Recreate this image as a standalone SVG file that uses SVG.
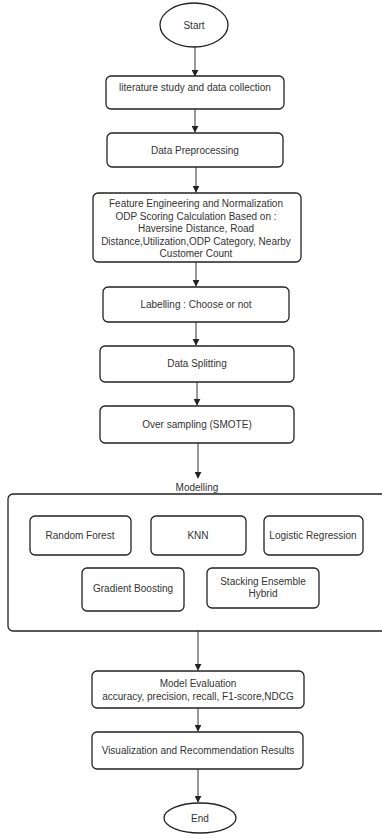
<svg xmlns="http://www.w3.org/2000/svg" width="382" height="838" viewBox="0 0 382 838">
<style>
.b{fill:#fff;stroke:#222;stroke-width:1.3}
.t{font-family:"Liberation Sans",Arial,sans-serif;font-size:10px;fill:#333;text-anchor:middle}
.c{stroke:#333;stroke-width:1;fill:none;marker-end:url(#a)}
</style>
<defs>
<marker id="a" viewBox="0 0 10 10" refX="9" refY="5" markerWidth="7" markerHeight="7" orient="auto" markerUnits="userSpaceOnUse">
<path d="M0,0 L10,5 L0,10 z" fill="#222"/>
</marker>
</defs>
<rect width="382" height="838" fill="#fff"/>
<g id="connectors">
<line class="c" x1="195" y1="47" x2="195" y2="76"/>
<line class="c" x1="195" y1="109" x2="195" y2="132"/>
<line class="c" x1="196" y1="167" x2="196" y2="192"/>
<line class="c" x1="196" y1="262" x2="196" y2="286"/>
<line class="c" x1="196" y1="322" x2="196" y2="345"/>
<line class="c" x1="197" y1="382" x2="197" y2="405"/>
<line class="c" x1="198" y1="443" x2="198" y2="478"/>
<line class="c" x1="198" y1="631" x2="198" y2="670"/>
<line class="c" x1="198" y1="708" x2="198" y2="731"/>
<line class="c" x1="198" y1="769" x2="198" y2="802"/>
</g>
<g id="start">
<ellipse class="b" cx="194" cy="25" rx="34" ry="22"/>
<text class="t" x="194" y="29">Start</text>
</g>
<g id="lit">
<rect class="b" x="106" y="76" width="178" height="33" rx="5"/>
<text class="t" x="195" y="91">literature study and data collection</text>
</g>
<g id="prep">
<rect class="b" x="107" y="133" width="176" height="34" rx="5"/>
<text class="t" x="195" y="154">Data Preprocessing</text>
</g>
<g id="feat">
<rect class="b" x="93" y="193" width="208" height="69" rx="5"/>
<text class="t" x="196" y="207">Feature Engineering and Normalization</text>
<text class="t" x="196" y="219.5">ODP Scoring Calculation Based on :</text>
<text class="t" x="196" y="232">Haversine Distance, Road</text>
<text class="t" x="196" y="244.5">Distance,Utilization,ODP Category, Nearby</text>
<text class="t" x="196" y="257">Customer Count</text>
</g>
<g id="label">
<rect class="b" x="103" y="287" width="186" height="35" rx="5"/>
<text class="t" x="196" y="308">Labelling : Choose or not</text>
</g>
<g id="split">
<rect class="b" x="100" y="346" width="194" height="36" rx="5"/>
<text class="t" x="197" y="367">Data Splitting</text>
</g>
<g id="smote">
<rect class="b" x="100" y="406" width="194" height="37" rx="5"/>
<text class="t" x="197" y="428">Over sampling (SMOTE)</text>
</g>
<g id="modelling">
<text class="t" x="197" y="491">Modelling</text>
<rect class="b" x="8" y="494" width="390" height="137" rx="5"/>
</g>
<g id="rf">
<rect class="b" x="30" y="516" width="101" height="39" rx="5"/>
<text class="t" x="80" y="539">Random Forest</text>
</g>
<g id="knn">
<rect class="b" x="151" y="516" width="95" height="39" rx="5"/>
<text class="t" x="198" y="539">KNN</text>
</g>
<g id="lr">
<rect class="b" x="264" y="516" width="99" height="39" rx="5"/>
<text class="t" x="313" y="539">Logistic Regression</text>
</g>
<g id="gb">
<rect class="b" x="82" y="568" width="102" height="43" rx="5"/>
<text class="t" x="133" y="592">Gradient Boosting</text>
</g>
<g id="stack">
<rect class="b" x="207" y="568" width="112" height="40" rx="5"/>
<text class="t" x="263" y="585">Stacking Ensemble</text>
<text class="t" x="263" y="597">Hybrid</text>
</g>
<g id="eval">
<rect class="b" x="92" y="671" width="212" height="37" rx="5"/>
<text class="t" x="198" y="687">Model Evaluation</text>
<text class="t" x="198" y="700">accuracy, precision, recall, F1-score,NDCG</text>
</g>
<g id="vis">
<rect class="b" x="92" y="732" width="211" height="37" rx="5"/>
<text class="t" x="198" y="754">Visualization and Recommendation Results</text>
</g>
<g id="end">
<ellipse class="b" cx="200" cy="818" rx="36" ry="15"/>
<text class="t" x="200" y="822">End</text>
</g>
</svg>
